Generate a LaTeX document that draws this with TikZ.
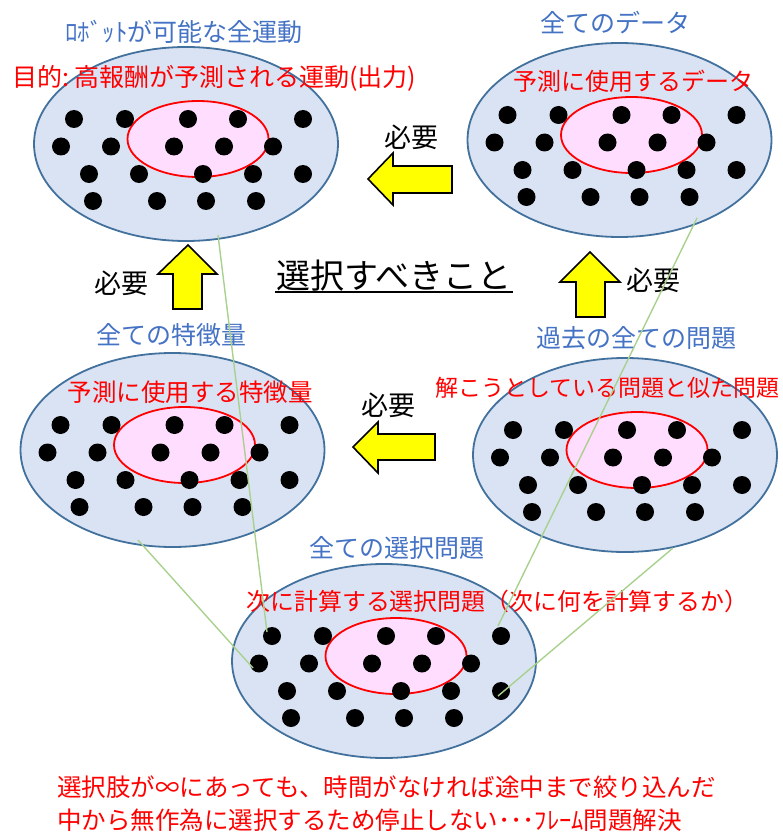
\documentclass[tikz,border=0pt]{standalone}
\usepackage{fontspec}
\setmainfont{Noto Sans CJK JP}
\usetikzlibrary{shapes.geometric}
\definecolor{ellfill}{HTML}{DAE3F3}
\definecolor{ellstroke}{HTML}{41719C}
\definecolor{pinkfill}{HTML}{FFDDFF}
\definecolor{bluetxt}{HTML}{4472C4}
\definecolor{greenln}{HTML}{A9D18E}
\definecolor{redtxt}{HTML}{FF0000}
\definecolor{arrowyellow}{HTML}{FFFF00}
\begin{document}
\begin{tikzpicture}[x=1pt,y=-1pt,
  outerell/.style={ellipse, draw=ellstroke, fill=ellfill, line width=1.8pt, minimum width=304pt, minimum height=194pt, inner sep=0pt},
  innerell/.style={ellipse, draw=redtxt, fill=pinkfill, line width=1.8pt, minimum width=141pt, minimum height=76pt, inner sep=0pt},
  dotn/.style={circle, fill=black, minimum size=18pt, inner sep=0pt},
  lab/.style={anchor=base, inner sep=0pt},
  bluelab/.style={lab, text=bluetxt, font=\fontsize{25}{30}\selectfont},
  redlab/.style={lab, text=redtxt, font=\fontsize{24}{29}\selectfont},
  needlab/.style={lab, text=black, font=\fontsize{27}{32}\selectfont},
  yarrow/.style={draw=black, fill=arrowyellow, line width=1.6pt, line join=miter},
  greenline/.style={draw=greenln, line width=1.4pt}
]
\useasboundingbox (0,0) rectangle (782,834);

% ellipses with dots
\foreach \nm/\cx/\cy in {TL/186/144, TR/619.5/140, ML/172.5/450, MR/625/455, B/384/661} {
  \node[outerell] (\nm) at (\cx,\cy) {};
  \node[innerell] (\nm-in) at (\cx+12,\cy-5) {};
  \foreach \dx [count=\i] in {-112,-61,2,52,117}
    \node[dotn] (\nm-a\i) at (\cx+\dx,\cy-25) {};
  \foreach \dx [count=\i] in {-125,-75,-12,38,87}
    \node[dotn] (\nm-b\i) at (\cx+\dx,\cy+2.5) {};
  \foreach \dx [count=\i] in {-97,-47,17,67,117}
    \node[dotn] (\nm-c\i) at (\cx+\dx,\cy+30) {};
  \foreach \dx [count=\i] in {-93,-29,20,70}
    \node[dotn] (\nm-d\i) at (\cx+\dx,\cy+57) {};
}

% yellow arrows
\draw[yarrow] (368,179) -- (393,153) -- (393,166) -- (452,166) -- (452,193) -- (393,193) -- (393,205) -- cycle;
\draw[yarrow] (353,447) -- (378,422) -- (378,434) -- (435,434) -- (435,460) -- (378,460) -- (378,473) -- cycle;
\draw[yarrow] (188,245) -- (217,274) -- (202,274) -- (202,309) -- (173,309) -- (173,274) -- (158,274) -- cycle;
\draw[yarrow] (590,252) -- (620,282) -- (605,282) -- (605,317) -- (576,317) -- (576,282) -- (560,282) -- cycle;

% labels
\node[bluelab] (t1) at (184,41.5) {ﾛﾎﾞｯﾄが可能な全運動};
\node[redlab, font=\fontsize{25}{30}\selectfont] (t2) at (214.5,86.5) {目的:\,高報酬が予測される運動(出力)};
\node[bluelab] (t3) at (615,32.5) {全てのデータ};
\node[redlab] (t4) at (633,91) {予測に使用するデータ};
\node[needlab] (t5) at (411.5,147.3) {必要};
\node[needlab] (t6) at (121.5,293.3) {必要};
\node[lab, font=\fontsize{34}{40}\selectfont] (t7) at (394,288) {選択すべきこと};
\draw[line width=1.5pt] (275,292) -- (513,292);
\node[needlab] (t8) at (653.5,290.3) {必要};
\node[bluelab] (t9) at (171.5,344.5) {全ての特徴量};
\node[redlab, font=\fontsize{24.5}{29}\selectfont] (t10) at (190,401.3) {予測に使用する特徴量};
\node[bluelab] (t11) at (636.5,347.5) {過去の全ての問題};
\node[redlab, font=\fontsize{23}{28}\selectfont] (t12) at (607.5,396.7) {解こうとしている問題と似た問題};
\node[needlab] (t13) at (388.5,415.3) {必要};
\node[bluelab] (t14) at (396.5,557.5) {全ての選択問題};
\node[redlab, font=\fontsize{23.9}{29}\selectfont] (t15) at (497.5,610) {次に計算する選択問題（次に何を計算するか）};
\node[redlab, anchor=base west, font=\fontsize{24.5}{29}\selectfont] (t16) at (57,796.3) {選択肢が∞にあっても、時間がなければ途中まで絞り込んだ};
\node[redlab, anchor=base west, font=\fontsize{24.5}{29}\selectfont] (t17) at (57,829.3) {中から無作為に選択するため停止しない･･･ﾌﾚｰﾑ問題解決};

% green connectors
\coordinate (l1s) at (218,235);
\coordinate (l1e) at (267,632);
\coordinate (l2s) at (697,218);
\coordinate (l2e) at (498,626);
\coordinate (l3s) at (138,540);
\coordinate (l3e) at (253,668);
\coordinate (l4s) at (673,548);
\coordinate (l4e) at (498,696);
\draw[greenline] (l1s) -- (l1e);
\draw[greenline] (l2s) -- (l2e);
\draw[greenline] (l3s) -- (l3e);
\draw[greenline] (l4s) -- (l4e);
\end{tikzpicture}
\end{document}
